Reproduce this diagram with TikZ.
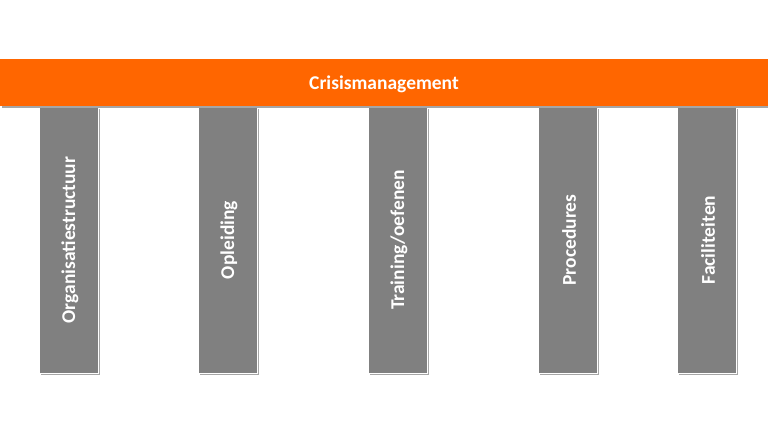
\documentclass[tikz,border=0pt]{standalone}
\usepackage{fontspec}
\setmainfont{Carlito}
\usetikzlibrary{shadows}
\definecolor{crisisorange}{HTML}{FF6600}
\definecolor{pillargray}{HTML}{808080}
\tikzset{
  x=1pt,y=-1pt,
  pillar/.style={fill=pillargray,draw=white,line width=0.6pt,
    drop shadow={shadow xshift=1.5pt,shadow yshift=-1.5pt,opacity=0.35,fill=black}},
  pillartext/.style={text=white,font=\fontsize{19.5}{23}\selectfont\bfseries,xshift=1.5pt,rotate=90,anchor=center},
  roof/.style={fill=crisisorange,draw=none,
    drop shadow={shadow xshift=1.5pt,shadow yshift=-1.5pt,opacity=0.35,fill=black}}
}
\begin{document}
\begin{tikzpicture}
\useasboundingbox (0,0) rectangle (768,432);
\fill[white] (0,0) rectangle (768,432);
\path[pillar] (39,107) rectangle (98,373) node[pillartext,midway] (p1) {Organisatiestructuur};
\path[pillar] (198,107) rectangle (257,373) node[pillartext,midway] (p2) {Opleiding};
\path[pillar] (368,107) rectangle (427,373) node[pillartext,midway] (p3) {Training/oefenen};
\path[pillar] (538,107) rectangle (597,373) node[pillartext,midway] (p4) {Procedures};
\path[pillar] (677,107) rectangle (736,373) node[pillartext,midway] (p5) {Faciliteiten};
\path[roof] (0,59) rectangle (768,106);
\node[text=white,font=\fontsize{19.5}{23}\selectfont\bfseries] (roof) at (384,84.5) {Crisismanagement};
\end{tikzpicture}
\end{document}
